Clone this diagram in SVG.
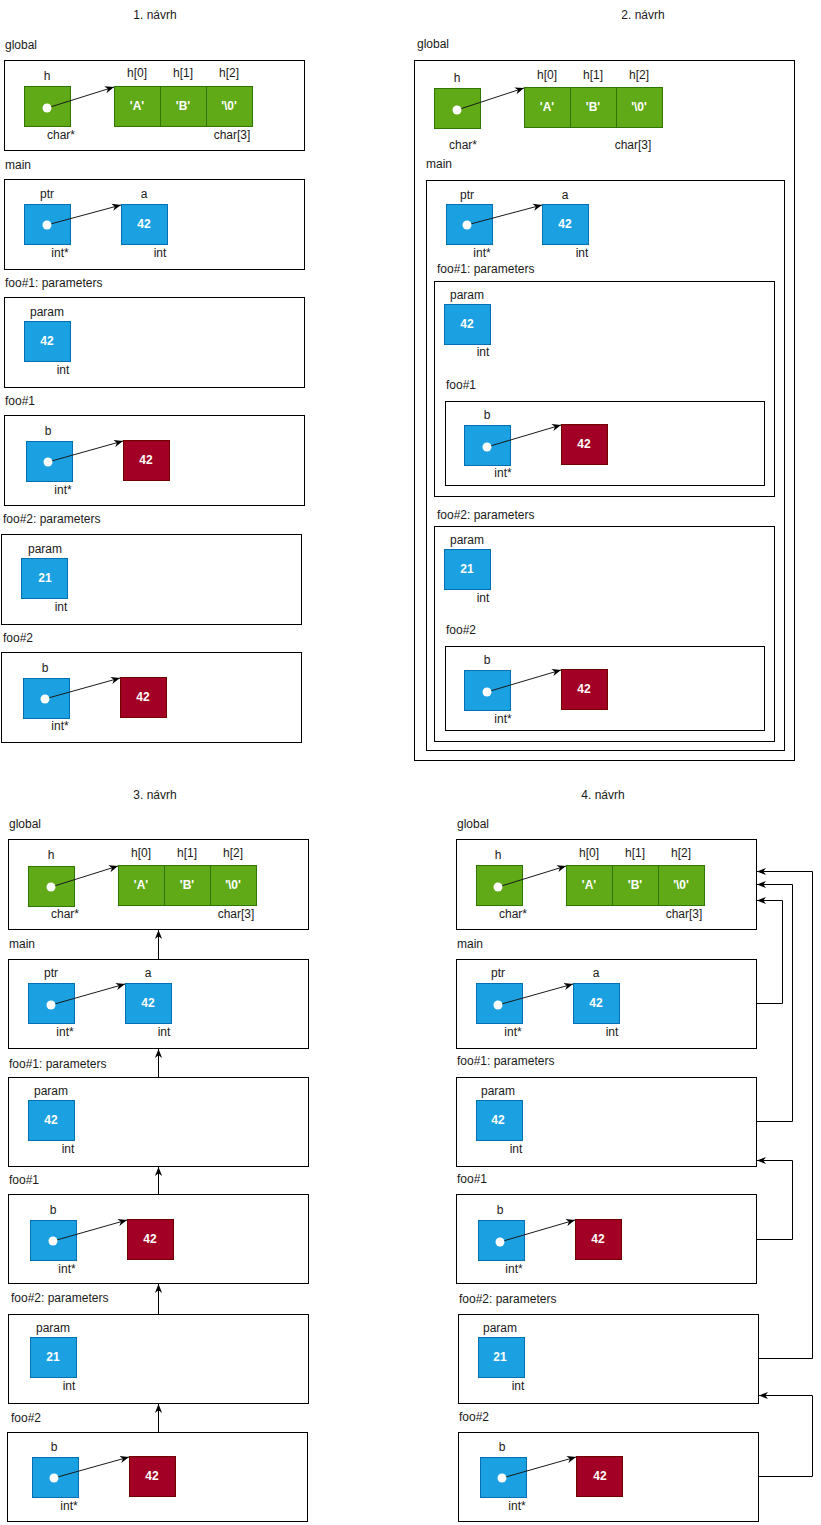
<svg xmlns="http://www.w3.org/2000/svg" width="821" height="1525" viewBox="0 0 821 1525">
<style>
.bg{fill:#fff}
.fr{fill:#fff;stroke:#000;stroke-width:1}
.g{fill:#60a917;stroke:#2d7600;stroke-width:1}
.b{fill:#1ba1e2;stroke:#006eaf;stroke-width:1}
.r{fill:#a20025;stroke:#6f0000;stroke-width:1}
.t{font-family:"Liberation Sans",Arial,sans-serif;font-size:12px;fill:#1a1a1a}
.m{text-anchor:middle}
.v{font-family:"Liberation Sans",Arial,sans-serif;font-size:12px;font-weight:bold;fill:#fff;text-anchor:middle}
.d{fill:#fff}
.p{fill:none;stroke:#1a1a1a;stroke-width:1;marker-end:url(#ah)}
.c{fill:none;stroke:#000;stroke-width:1;marker-end:url(#ah)}
</style>
<defs>
<marker id="ah" viewBox="0 0 10 10" refX="10" refY="5" markerWidth="9" markerHeight="9" markerUnits="userSpaceOnUse" orient="auto">
<path d="M0,1 L10,5 L0,9 L3,5 z" fill="#000"/>
</marker>
</defs>
<rect class="bg" x="0" y="0" width="821" height="1525"/>

<!-- ===== 1. návrh ===== -->
<g id="s1">
<text class="t m" x="155" y="19">1. návrh</text>
<g id="s1-global">
<text class="t" x="5" y="49">global</text>
<rect class="fr" x="4.5" y="60.5" width="300" height="90"/>
<g id="s1-h"><rect class="g" x="24.5" y="86.5" width="46" height="40"/><text class="t m" x="47" y="80">h</text><circle class="d" cx="47" cy="108" r="4.5"/><text class="t m" x="61" y="139">char*</text></g>
<g id="s1-arr">
<rect class="g" x="114.5" y="86.5" width="46" height="40"/><rect class="g" x="160.5" y="86.5" width="46" height="40"/><rect class="g" x="206.5" y="86.5" width="46" height="40"/>
<text class="t m" x="137" y="77">h[0]</text><text class="t m" x="183" y="77">h[1]</text><text class="t m" x="229" y="77">h[2]</text>
<text class="v" x="137" y="110">'A'</text><text class="v" x="183" y="110">'B'</text><text class="v" x="229" y="110">'\0'</text>
<text class="t m" x="232" y="139">char[3]</text></g>
</g>
<g id="s1-main">
<text class="t" x="5" y="169">main</text>
<rect class="fr" x="4.5" y="179.5" width="300" height="90"/>
<g id="s1-ptr"><rect class="b" x="24.5" y="204.5" width="46" height="40"/><text class="t m" x="47" y="198">ptr</text><circle class="d" cx="47" cy="225" r="4.5"/><text class="t m" x="60" y="257">int*</text></g>
<g id="s1-a"><rect class="b" x="121.5" y="204.5" width="46" height="40"/><text class="t m" x="144" y="198">a</text><text class="v" x="144" y="228">42</text><text class="t m" x="160" y="257">int</text></g>
</g>
<g id="s1-foo1p">
<text class="t" x="5" y="287">foo#1: parameters</text>
<rect class="fr" x="4.5" y="297.5" width="300" height="90"/>
<g id="s1-param1"><rect class="b" x="24.5" y="321.5" width="46" height="40"/><text class="t m" x="47" y="316">param</text><text class="v" x="47" y="345">42</text><text class="t m" x="63" y="374">int</text></g>
</g>
<g id="s1-foo1">
<text class="t" x="5" y="405">foo#1</text>
<rect class="fr" x="4.5" y="415.5" width="300" height="90"/>
<g id="s1-b1"><rect class="b" x="26.5" y="441.5" width="46" height="40"/><text class="t m" x="48" y="435">b</text><circle class="d" cx="48" cy="462" r="4.5"/><text class="t m" x="63" y="494">int*</text></g>
<g id="s1-heap1"><rect class="r" x="123.5" y="440.5" width="46" height="40"/><text class="v" x="146" y="464">42</text></g>
</g>
<g id="s1-foo2p">
<text class="t" x="3" y="523">foo#2: parameters</text>
<rect class="fr" x="1.5" y="534.5" width="300" height="90"/>
<g id="s1-param2"><rect class="b" x="21.5" y="558.5" width="46" height="40"/><text class="t m" x="45" y="553">param</text><text class="v" x="45" y="582">21</text><text class="t m" x="61" y="611">int</text></g>
</g>
<g id="s1-foo2">
<text class="t" x="3" y="642">foo#2</text>
<rect class="fr" x="1.5" y="652.5" width="300" height="90"/>
<g id="s1-b2"><rect class="b" x="23.5" y="678.5" width="46" height="40"/><text class="t m" x="45" y="672">b</text><circle class="d" cx="45" cy="699" r="4.5"/><text class="t m" x="60" y="730">int*</text></g>
<g id="s1-heap2"><rect class="r" x="120.5" y="677.5" width="46" height="40"/><text class="v" x="143" y="701">42</text></g>
</g>
</g>

<!-- ===== 2. návrh ===== -->
<g id="s2">
<text class="t m" x="643" y="19">2. návrh</text>
<g id="s2-global">
<text class="t" x="417" y="48">global</text>
<rect class="fr" x="414.5" y="60.5" width="380" height="700"/>
<g id="s2-h"><rect class="g" x="434.5" y="88.5" width="46" height="40"/><text class="t m" x="457" y="82">h</text><circle class="d" cx="457" cy="110" r="4.5"/><text class="t m" x="463" y="149">char*</text></g>
<g id="s2-arr">
<rect class="g" x="524.5" y="87.5" width="46" height="40"/><rect class="g" x="570.5" y="87.5" width="46" height="40"/><rect class="g" x="616.5" y="87.5" width="46" height="40"/>
<text class="t m" x="547" y="79">h[0]</text><text class="t m" x="593" y="79">h[1]</text><text class="t m" x="639" y="79">h[2]</text>
<text class="v" x="547" y="111">'A'</text><text class="v" x="593" y="111">'B'</text><text class="v" x="639" y="111">'\0'</text>
<text class="t m" x="633" y="149">char[3]</text></g>
</g>
<g id="s2-main">
<text class="t" x="426" y="168">main</text>
<rect class="fr" x="426.5" y="180.5" width="358" height="570"/>
<g id="s2-ptr"><rect class="b" x="446.5" y="204.5" width="46" height="40"/><text class="t m" x="467" y="199">ptr</text><circle class="d" cx="467" cy="225" r="4.5"/><text class="t m" x="482" y="257">int*</text></g>
<g id="s2-a"><rect class="b" x="542.5" y="204.5" width="46" height="40"/><text class="t m" x="565" y="199">a</text><text class="v" x="565" y="228">42</text><text class="t m" x="582" y="257">int</text></g>
</g>
<g id="s2-foo1p">
<text class="t" x="437" y="273">foo#1: parameters</text>
<rect class="fr" x="434.5" y="281.5" width="340" height="215"/>
<g id="s2-param1"><rect class="b" x="444.5" y="304.5" width="46" height="40"/><text class="t m" x="467" y="299">param</text><text class="v" x="467" y="328">42</text><text class="t m" x="483" y="356">int</text></g>
</g>
<g id="s2-foo1">
<text class="t" x="446" y="389">foo#1</text>
<rect class="fr" x="445.5" y="401.5" width="319" height="84"/>
<g id="s2-b1"><rect class="b" x="464.5" y="425.5" width="46" height="40"/><text class="t m" x="487" y="419">b</text><circle class="d" cx="487" cy="447" r="4.5"/><text class="t m" x="503" y="477">int*</text></g>
<g id="s2-heap1"><rect class="r" x="561.5" y="424.5" width="46" height="40"/><text class="v" x="584" y="448">42</text></g>
</g>
<g id="s2-foo2p">
<text class="t" x="437" y="519">foo#2: parameters</text>
<rect class="fr" x="434.5" y="526.5" width="340" height="215"/>
<g id="s2-param2"><rect class="b" x="444.5" y="549.5" width="46" height="40"/><text class="t m" x="467" y="544">param</text><text class="v" x="467" y="573">21</text><text class="t m" x="483" y="602">int</text></g>
</g>
<g id="s2-foo2">
<text class="t" x="446" y="634">foo#2</text>
<rect class="fr" x="445.5" y="646.5" width="319" height="84"/>
<g id="s2-b2"><rect class="b" x="464.5" y="670.5" width="46" height="40"/><text class="t m" x="487" y="664">b</text><circle class="d" cx="487" cy="692" r="4.5"/><text class="t m" x="503" y="723">int*</text></g>
<g id="s2-heap2"><rect class="r" x="561.5" y="669.5" width="46" height="40"/><text class="v" x="584" y="693">42</text></g>
</g>
</g>

<!-- ===== 3. návrh ===== -->
<g id="s3">
<text class="t m" x="155" y="799">3. návrh</text>
<g id="s3-global">
<text class="t" x="9" y="828">global</text>
<rect class="fr" x="8.5" y="839.5" width="300" height="90"/>
<g id="s3-h"><rect class="g" x="28.5" y="866.5" width="46" height="40"/><text class="t m" x="51" y="859">h</text><circle class="d" cx="51" cy="887" r="4.5"/><text class="t m" x="65" y="918">char*</text></g>
<g id="s3-arr">
<rect class="g" x="118.5" y="865.5" width="46" height="40"/><rect class="g" x="164.5" y="865.5" width="46" height="40"/><rect class="g" x="210.5" y="865.5" width="46" height="40"/>
<text class="t m" x="141" y="857">h[0]</text><text class="t m" x="187" y="857">h[1]</text><text class="t m" x="233" y="857">h[2]</text>
<text class="v" x="141" y="889">'A'</text><text class="v" x="187" y="889">'B'</text><text class="v" x="233" y="889">'\0'</text>
<text class="t m" x="236" y="918">char[3]</text></g>
</g>
<g id="s3-main">
<text class="t" x="9" y="948">main</text>
<rect class="fr" x="8.5" y="959.5" width="300" height="89"/>
<g id="s3-ptr"><rect class="b" x="28.5" y="983.5" width="46" height="40"/><text class="t m" x="51" y="977">ptr</text><circle class="d" cx="51" cy="1005" r="4.5"/><text class="t m" x="65" y="1036">int*</text></g>
<g id="s3-a"><rect class="b" x="125.5" y="983.5" width="46" height="40"/><text class="t m" x="148" y="977">a</text><text class="v" x="148" y="1007">42</text><text class="t m" x="164" y="1036">int</text></g>
</g>
<g id="s3-foo1p">
<text class="t" x="9" y="1068">foo#1: parameters</text>
<rect class="fr" x="8.5" y="1077.5" width="300" height="89"/>
<g id="s3-param1"><rect class="b" x="28.5" y="1100.5" width="46" height="40"/><text class="t m" x="51" y="1095">param</text><text class="v" x="51" y="1124">42</text><text class="t m" x="68" y="1153">int</text></g>
</g>
<g id="s3-foo1">
<text class="t" x="9" y="1184">foo#1</text>
<rect class="fr" x="8.5" y="1194.5" width="300" height="89"/>
<g id="s3-b1"><rect class="b" x="30.5" y="1220.5" width="46" height="40"/><text class="t m" x="53" y="1214">b</text><circle class="d" cx="53" cy="1241" r="4.5"/><text class="t m" x="67" y="1273">int*</text></g>
<g id="s3-heap1"><rect class="r" x="127.5" y="1219.5" width="46" height="40"/><text class="v" x="150" y="1243">42</text></g>
</g>
<g id="s3-foo2p">
<text class="t" x="11" y="1302">foo#2: parameters</text>
<rect class="fr" x="8.5" y="1314.5" width="300" height="89"/>
<g id="s3-param2"><rect class="b" x="30.5" y="1337.5" width="46" height="40"/><text class="t m" x="53" y="1332">param</text><text class="v" x="53" y="1361">21</text><text class="t m" x="69" y="1390">int</text></g>
</g>
<g id="s3-foo2">
<text class="t" x="11" y="1422">foo#2</text>
<rect class="fr" x="7.5" y="1432.5" width="300" height="89"/>
<g id="s3-b2"><rect class="b" x="32.5" y="1457.5" width="46" height="40"/><text class="t m" x="54" y="1451">b</text><circle class="d" cx="54" cy="1478" r="4.5"/><text class="t m" x="69" y="1510">int*</text></g>
<g id="s3-heap2"><rect class="r" x="129.5" y="1456.5" width="46" height="40"/><text class="v" x="152" y="1480">42</text></g>
</g>
</g>

<!-- ===== 4. návrh ===== -->
<g id="s4">
<text class="t m" x="603" y="799">4. návrh</text>
<g id="s4-global">
<text class="t" x="457" y="828">global</text>
<rect class="fr" x="456.5" y="839.5" width="300" height="90"/>
<g id="s4-h"><rect class="g" x="476.5" y="865.5" width="46" height="40"/><text class="t m" x="498" y="859">h</text><circle class="d" cx="498" cy="887" r="4.5"/><text class="t m" x="513" y="918">char*</text></g>
<g id="s4-arr">
<rect class="g" x="566.5" y="865.5" width="46" height="40"/><rect class="g" x="612.5" y="865.5" width="46" height="40"/><rect class="g" x="658.5" y="865.5" width="46" height="40"/>
<text class="t m" x="589" y="857">h[0]</text><text class="t m" x="635" y="857">h[1]</text><text class="t m" x="681" y="857">h[2]</text>
<text class="v" x="589" y="889">'A'</text><text class="v" x="635" y="889">'B'</text><text class="v" x="681" y="889">'\0'</text>
<text class="t m" x="684" y="918">char[3]</text></g>
</g>
<g id="s4-main">
<text class="t" x="457" y="948">main</text>
<rect class="fr" x="456.5" y="959.5" width="300" height="89"/>
<g id="s4-ptr"><rect class="b" x="476.5" y="983.5" width="46" height="40"/><text class="t m" x="498" y="977">ptr</text><circle class="d" cx="498" cy="1005" r="4.5"/><text class="t m" x="513" y="1036">int*</text></g>
<g id="s4-a"><rect class="b" x="573.5" y="983.5" width="46" height="40"/><text class="t m" x="596" y="977">a</text><text class="v" x="596" y="1007">42</text><text class="t m" x="612" y="1036">int</text></g>
</g>
<g id="s4-foo1p">
<text class="t" x="457" y="1065">foo#1: parameters</text>
<rect class="fr" x="456.5" y="1077.5" width="300" height="89"/>
<g id="s4-param1"><rect class="b" x="476.5" y="1100.5" width="46" height="40"/><text class="t m" x="498" y="1095">param</text><text class="v" x="498" y="1124">42</text><text class="t m" x="516" y="1153">int</text></g>
</g>
<g id="s4-foo1">
<text class="t" x="457" y="1183">foo#1</text>
<rect class="fr" x="456.5" y="1194.5" width="300" height="89"/>
<g id="s4-b1"><rect class="b" x="478.5" y="1220.5" width="46" height="40"/><text class="t m" x="500" y="1214">b</text><circle class="d" cx="500" cy="1242" r="4.5"/><text class="t m" x="514" y="1273">int*</text></g>
<g id="s4-heap1"><rect class="r" x="575.5" y="1219.5" width="46" height="40"/><text class="v" x="598" y="1243">42</text></g>
</g>
<g id="s4-foo2p">
<text class="t" x="459" y="1303">foo#2: parameters</text>
<rect class="fr" x="458.5" y="1314.5" width="300" height="89"/>
<g id="s4-param2"><rect class="b" x="478.5" y="1337.5" width="46" height="40"/><text class="t m" x="500" y="1332">param</text><text class="v" x="500" y="1361">21</text><text class="t m" x="518" y="1390">int</text></g>
</g>
<g id="s4-foo2">
<text class="t" x="459" y="1421">foo#2</text>
<rect class="fr" x="458.5" y="1432.5" width="300" height="89"/>
<g id="s4-b2"><rect class="b" x="480.5" y="1457.5" width="46" height="40"/><text class="t m" x="502" y="1451">b</text><circle class="d" cx="502" cy="1478" r="4.5"/><text class="t m" x="517" y="1510">int*</text></g>
<g id="s4-heap2"><rect class="r" x="576.5" y="1456.5" width="46" height="40"/><text class="v" x="600" y="1480">42</text></g>
</g>
</g>

<g id="connectors">
<!-- pointer arrows (start at dot edge) -->
<line class="p" x1="51.3" y1="106.7" x2="114" y2="87"/>
<line class="p" x1="51.3" y1="223.8" x2="121" y2="205"/>
<line class="p" x1="52.3" y1="460.8" x2="123" y2="441"/>
<line class="p" x1="49.3" y1="697.7" x2="120" y2="678"/>
<line class="p" x1="461.3" y1="108.6" x2="524" y2="88"/>
<line class="p" x1="471.3" y1="223.8" x2="542" y2="205"/>
<line class="p" x1="491.3" y1="445.7" x2="561" y2="425"/>
<line class="p" x1="491.3" y1="690.7" x2="561" y2="670"/>
<line class="p" x1="55.3" y1="885.7" x2="118" y2="866"/>
<line class="p" x1="55.3" y1="1003.8" x2="125" y2="984"/>
<line class="p" x1="57.3" y1="1239.8" x2="127" y2="1220"/>
<line class="p" x1="58.3" y1="1476.8" x2="129" y2="1457"/>
<line class="p" x1="502.3" y1="885.7" x2="566" y2="866"/>
<line class="p" x1="502.3" y1="1003.8" x2="573" y2="984"/>
<line class="p" x1="504.3" y1="1240.7" x2="575" y2="1220"/>
<line class="p" x1="506.3" y1="1476.8" x2="576" y2="1457"/>
<!-- section 3 frame links -->
<line class="c" x1="158.5" y1="959" x2="158.5" y2="930"/>
<line class="c" x1="158.5" y1="1077" x2="158.5" y2="1049"/>
<line class="c" x1="158.5" y1="1194" x2="158.5" y2="1167"/>
<line class="c" x1="158.5" y1="1314" x2="158.5" y2="1284"/>
<line class="c" x1="158.5" y1="1432" x2="158.5" y2="1404"/>
<!-- section 4 frame links -->
<path class="c" d="M757,1003.5 H782.5 V900.5 H757"/>
<path class="c" d="M757,1121.5 H792.5 V884.5 H757"/>
<path class="c" d="M759,1358.5 H812.5 V871.5 H757"/>
<path class="c" d="M757,1239.5 H792.5 V1160.5 H757"/>
<path class="c" d="M759,1476.5 H812.5 V1395.5 H759"/>
</g>
</svg>
